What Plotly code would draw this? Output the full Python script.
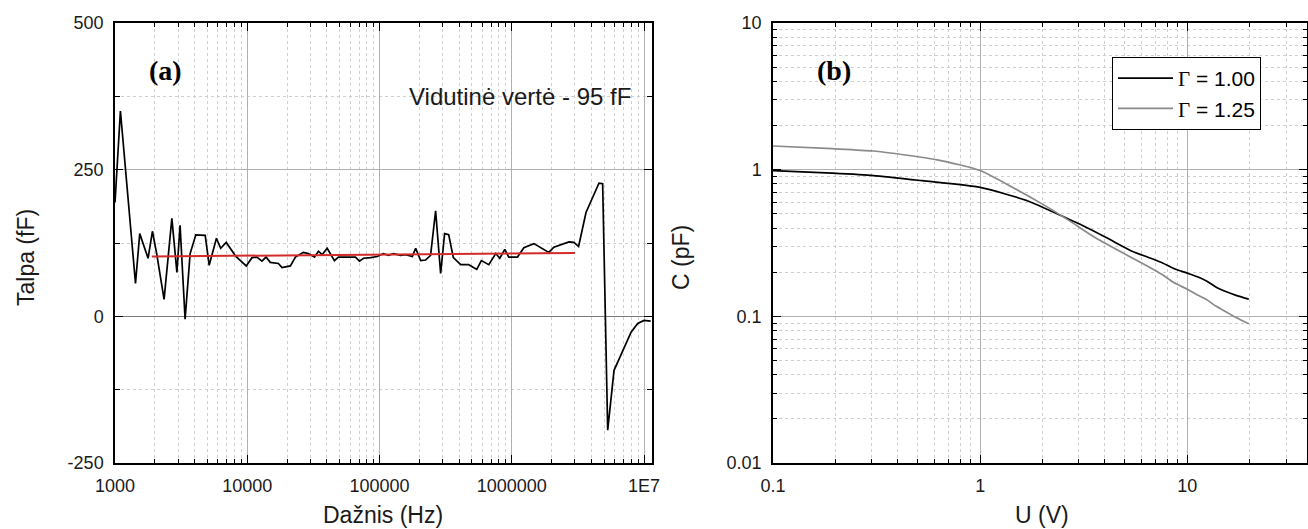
import plotly.graph_objects as go

W, H = 1308, 529

# ---------------- Panel (a) data ----------------
freq_log = [3.000, 3.041, 3.155, 3.187, 3.250, 3.283, 3.315, 3.371, 3.430, 3.468,
            3.492, 3.530, 3.568, 3.611, 3.682, 3.712, 3.767, 3.799, 3.841, 3.914,
            3.992, 4.036, 4.073, 4.111, 4.142, 4.174, 4.235, 4.263, 4.326, 4.364,
            4.424, 4.462, 4.508, 4.538, 4.566, 4.604, 4.659, 4.689, 4.755, 4.818,
            4.848, 4.879, 4.932, 4.983, 5.028, 5.068, 5.106, 5.159, 5.197, 5.248,
            5.273, 5.311, 5.348, 5.386, 5.424, 5.462, 5.492, 5.523, 5.558, 5.614,
            5.674, 5.735, 5.770, 5.826, 5.879, 5.909, 5.947, 5.977, 6.043, 6.091,
            6.167, 6.233, 6.280, 6.318, 6.371, 6.432, 6.470, 6.505, 6.561, 6.621,
            6.659, 6.687, 6.725, 6.773, 6.839, 6.902, 6.952, 7.000, 7.050]
talpa = [194, 350, 56, 141, 99, 145, 107, 29, 167, 75,
         155, -5, 107, 139, 138, 87, 133, 116, 126, 102,
         86, 100, 101, 94, 101, 92, 90, 83, 86, 101,
         109, 107, 101, 111, 105, 116, 95, 101, 101, 101,
         94, 99, 100, 102, 107, 104, 107, 104, 105, 102,
         116, 95, 96, 104, 180, 73, 141, 139, 100, 88,
         88, 80, 95, 88, 107, 99, 114, 101, 101, 117,
         124, 116, 109, 118, 122, 127, 126, 119, 177, 206,
         227, 226, -194, -92, -58, -27, -12, -7, -8]
freq = [10 ** v for v in freq_log]

fit_freq = [1.9e3, 3.0e6]
fit_val = [102, 108]

# ---------------- Panel (b) data ----------------
u_g100 = [0.1, 0.193, 0.305, 0.526, 1.0, 1.70, 2.58, 3.04, 4.08, 5.45,
          6.5, 7.6, 8.6, 10.0, 11.2, 12.5, 13.8, 15.45, 17.2, 19.8]
c_g100 = [0.985, 0.946, 0.912, 0.841, 0.757, 0.612, 0.471, 0.424, 0.343, 0.277,
          0.252, 0.231, 0.212, 0.197, 0.186, 0.173, 0.158, 0.147, 0.139, 0.131]
u_g125 = [0.1, 0.193, 0.305, 0.622, 1.0, 1.435, 2.0, 2.68, 3.6, 5.45,
          6.5, 7.6, 8.6, 10.0, 11.2, 12.5, 13.8, 15.45, 17.2, 19.8]
c_g125 = [1.45, 1.39, 1.34, 1.167, 0.986, 0.757, 0.582, 0.451, 0.343, 0.249,
          0.218, 0.192, 0.170, 0.153, 0.140, 0.129, 0.117, 0.107, 0.098, 0.089]

x_ticks_a = [1e3, 1e4, 1e5, 1e6, 1e7]
x_text_a = ["1000", "10000", "100000", "1000000", "1E7"]
y_ticks_a = [-250, 0, 250, 500]
y_text_a = ["-250", "0", "250", "500"]
x_ticks_b = [0.1, 1, 10]
x_text_b = ["0.1", "1", "10"]
y_ticks_b = [0.01, 0.1, 1, 10]
y_text_b = ["0.01", "0.1", "1", "10"]

fig = go.Figure()
fig.add_trace(go.Scatter(x=freq, y=talpa, mode="lines", line=dict(color="black", width=1.7),
                         showlegend=False, xaxis="x", yaxis="y"))
fig.add_trace(go.Scatter(x=fit_freq, y=fit_val, mode="lines", line=dict(color="#d42a2a", width=2),
                         showlegend=False, xaxis="x", yaxis="y"))
fig.add_trace(go.Scatter(x=u_g100, y=c_g100, mode="lines", line=dict(color="black", width=1.7, shape="spline", smoothing=0.6),
                         name="<span style='font-family:Liberation Serif'>Γ</span> = 1.00", xaxis="x2", yaxis="y2"))
fig.add_trace(go.Scatter(x=u_g125, y=c_g125, mode="lines", line=dict(color="#8a8a8a", width=1.7, shape="spline", smoothing=0.6),
                         name="<span style='font-family:Liberation Serif'>Γ</span> = 1.25", xaxis="x2", yaxis="y2"))

sans = "Liberation Sans, Arial, sans-serif"
tickfont = dict(family=sans, size=18, color="#1a1a1a")
y0, y1 = 1 - 463 / H, 1 - 23 / H

def decade_minors(lo, hi):
    out = []
    for e in range(lo, hi):
        for m in range(2, 10):
            out.append(m * 10 ** e)
    return out

common = dict(showline=True, linecolor="black", linewidth=1.5, mirror="ticks",
              ticks="inside", ticklen=8, tickcolor="black", tickfont=tickfont,
              showgrid=True, gridcolor="#b0b0b0", gridwidth=1,
              ticklabelstandoff=6, automargin=False)

fig.update_layout(
    width=W, height=H, margin=dict(l=0, r=0, t=0, b=0, autoexpand=False),
    paper_bgcolor="white", plot_bgcolor="white",
    xaxis=dict(type="log", range=[3, 7.06], domain=[115 / W, 652 / W],
               tickvals=x_ticks_a, ticktext=x_text_a, anchor="y", zeroline=False,
               minor=dict(tickvals=decade_minors(3, 7), ticks="inside", ticklen=4, tickcolor="black",
                          showgrid=True, gridcolor="#cfcfcf", griddash="dot", gridwidth=1),
               **common),
    yaxis=dict(range=[-250, 500], domain=[y0, y1], tickvals=y_ticks_a, ticktext=y_text_a, anchor="x",
               minor=dict(dtick=125, tick0=0, ticks="inside", ticklen=5, tickcolor="black",
                          showgrid=True, gridcolor="#cfcfcf", griddash="dot", gridwidth=1),
               zeroline=True, zerolinecolor="#7a7a7a", zerolinewidth=1, **common),
    xaxis2=dict(type="log", range=[-1, 1.578], domain=[773 / W, 1307 / W],
                tickvals=x_ticks_b, ticktext=x_text_b, anchor="y2", zeroline=False,
                minor=dict(tickvals=decade_minors(-1, 2), ticks="inside", ticklen=4, tickcolor="black",
                           showgrid=True, gridcolor="#cfcfcf", griddash="dot", gridwidth=1),
                **common),
    yaxis2=dict(type="log", range=[-2, 1], domain=[y0, y1],
                tickvals=y_ticks_b, ticktext=y_text_b, anchor="x2", zeroline=False,
                minor=dict(tickvals=decade_minors(-2, 1), ticks="inside", ticklen=4, tickcolor="black",
                           showgrid=True, gridcolor="#cfcfcf", griddash="dot", gridwidth=1),
                **common),
    legend=dict(x=1112 / W, y=1 - 57 / H, xanchor="left", yanchor="top",
                bgcolor="white", bordercolor="black", borderwidth=1,
                font=dict(family=sans, size=21, color="black"), itemwidth=55,
                tracegroupgap=0),
)

ann = [
    dict(text="<b>(a)</b>", x=147 / W, y=1 - 71 / H, xanchor="left", yanchor="middle",
         font=dict(family="Liberation Serif, Times New Roman, serif", size=28, color="black")),
    dict(text="<b>(b)</b>", x=815 / W, y=1 - 71 / H, xanchor="left", yanchor="middle",
         font=dict(family="Liberation Serif, Times New Roman, serif", size=28, color="black")),
    dict(text="Vidutinė vertė - 95 fF", x=633 / W, y=1 - 97 / H, xanchor="right", yanchor="middle",
         font=dict(family=sans, size=24, color="#1a1a1a")),
    dict(text="Dažnis (Hz)", x=383 / W, y=1 - 515 / H, xanchor="center", yanchor="middle",
         font=dict(family=sans, size=23, color="#1a1a1a")),
    dict(text="Talpa (fF)", x=26 / W, y=1 - 258 / H, xanchor="center", yanchor="middle", textangle=-90,
         font=dict(family=sans, size=23, color="#1a1a1a")),
    dict(text="U (V)", x=1042 / W, y=1 - 515 / H, xanchor="center", yanchor="middle",
         font=dict(family=sans, size=23, color="#1a1a1a")),
    dict(text="C (pF)", x=681 / W, y=1 - 258 / H, xanchor="center", yanchor="middle", textangle=-90,
         font=dict(family=sans, size=23, color="#1a1a1a")),
]
for a in ann:
    a.update(xref="paper", yref="paper", showarrow=False)
fig.update_layout(annotations=ann)

fig.write_html("out.html", config={"displayModeBar": False},
               post_script="document.body.style.margin='0px';document.body.style.overflow='hidden';")
